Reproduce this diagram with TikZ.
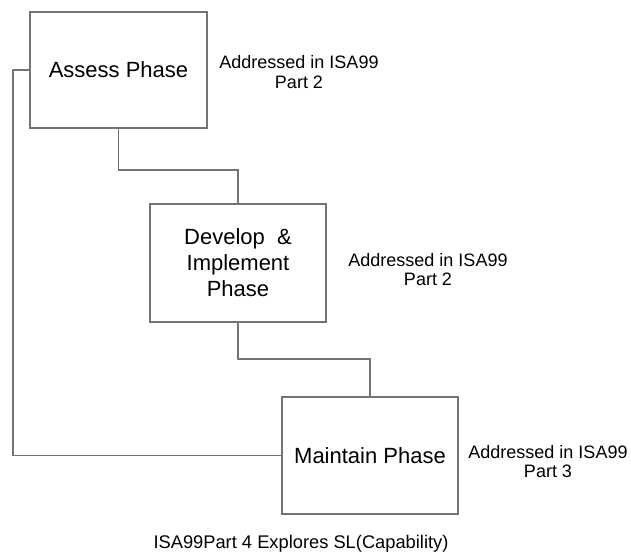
\documentclass[tikz,border=0pt]{standalone}
\usepackage{fontspec}
\setmainfont{Liberation Sans}
\begin{document}
\begin{tikzpicture}[x=1pt,y=-1pt,
  phasebox/.style={draw=linegray, line width=1.6pt, fill=white, inner sep=0pt,
    align=center, font=\fontsize{22}{26}\selectfont},
  wire/.style={draw=linegray, line width=1.4pt},
  note/.style={align=center, inner sep=0pt, font=\fontsize{18}{19.5}\selectfont}]
  \definecolor{linegray}{RGB}{116,116,116}
  \useasboundingbox (0,0) rectangle (631,554);

  % phase boxes
  \node[phasebox, minimum width=177pt, minimum height=116pt] (assess) at (118.5,70) {Assess Phase};
  \node[phasebox, minimum width=176pt, minimum height=118pt] (develop) at (238,263) {Develop \ \&\\Implement\\Phase};
  \node[phasebox, minimum width=176pt, minimum height=117pt] (maintain) at (370,455.5) {Maintain Phase};

  % routing points for the elbow connectors
  \coordinate (elbow1) at (0,170);
  \coordinate (elbow2) at (0,359);
  \coordinate (rail) at (13,0);

  \draw[wire] (assess.south) -- (assess.south |- elbow1) -| (develop.north);
  \draw[wire] (develop.south) -- (develop.south |- elbow2) -| (maintain.north);
  \draw[wire] (assess.west) -- (assess.west -| rail) -- (rail |- maintain.west) -- (maintain.west);

  % side notes
  \node[note] (noteA) at (299,72) {Addressed in ISA99\\Part 2};
  \node[note] (noteD) at (428,269.5) {Addressed in ISA99\\Part 2};
  \node[note] (noteM) at (548,461.5) {Addressed in ISA99\\Part 3};
  \node[note, font=\fontsize{18.3}{20}\selectfont] (footer) at (301,544) {ISA99Part 4 Explores SL(Capability)};
\end{tikzpicture}
\end{document}
